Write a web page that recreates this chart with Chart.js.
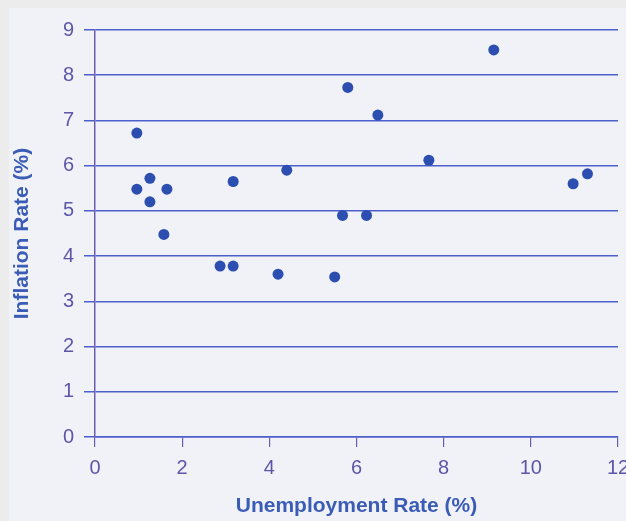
<!DOCTYPE html>
<html>
<head>
<meta charset="utf-8">
<script src="https://cdn.jsdelivr.net/npm/chart.js@4.4.0/dist/chart.umd.min.js"></script>
<style>
  html, body { margin: 0; padding: 0; overflow: hidden; background: #ececec; width: 626px; height: 521px; }
  #panel { position: absolute; left: 9px; top: 8px; width: 617px; height: 513px; background: #f0f2f7; overflow: hidden; }
  canvas { display: block; }
</style>
</head>
<body>
<div id="panel"><canvas id="chart" width="630" height="513"></canvas></div>
<script>
// Unemployment (%) vs inflation (%) readings
const unemployment = [0.96, 0.96, 1.26, 1.26, 1.65, 1.58, 2.87, 3.17, 3.17, 4.4, 4.2, 5.5, 5.8, 5.68, 6.23, 6.49, 7.66, 9.15, 10.97, 11.3];
const inflation = [6.72, 5.48, 5.72, 5.2, 5.48, 4.48, 3.78, 3.78, 5.65, 5.9, 3.6, 3.54, 7.73, 4.9, 4.9, 7.12, 6.12, 8.56, 5.6, 5.82];

const xTicks = [0, 2, 4, 6, 8, 10, 12];
const yTicks = [0, 1, 2, 3, 4, 5, 6, 7, 8, 9];

const labelColor = '#5d56a8';
const titleColor = '#3b5cb6';
const gridColor = '#4c5fcb';
const axisColor = '#6b5eb2';

const points = unemployment.map((u, i) => ({ x: u, y: inflation[i] }));

new Chart(document.getElementById('chart'), {
    type: 'scatter',
    data: {
        datasets: [{
            data: points,
            backgroundColor: '#2b4eb0',
            borderWidth: 0,
            pointRadius: 5.5,
            pointHoverRadius: 5.5
        }]
    },
    options: {
        responsive: false,
        animation: false,
        layout: { padding: { left: 0, top: 21, right: 21, bottom: 0 } },
        plugins: { legend: { display: false }, tooltip: { enabled: false } },
        scales: {
            x: {
                type: 'linear',
                min: 0,
                max: 12,
                afterBuildTicks: (scale) => { scale.ticks = xTicks.map(v => ({ value: v })); },
                afterFit: (scale) => { scale.height = 84; },
                grid: { drawOnChartArea: false, drawTicks: true, tickLength: 10, color: axisColor, lineWidth: 1.2 },
                border: { display: true, color: gridColor, width: 1.5 },
                ticks: {
                    color: labelColor,
                    padding: 9,
                    maxRotation: 0,
                    font: { family: "'Liberation Sans', Arial, sans-serif", size: 20 }
                },
                title: {
                    display: true,
                    text: 'Unemployment Rate (%)',
                    color: titleColor,
                    padding: { top: 0, bottom: 2 },
                    font: { family: "'Liberation Sans', Arial, sans-serif", size: 21, weight: 'bold' }
                }
            },
            y: {
                type: 'linear',
                min: 0,
                max: 9,
                afterBuildTicks: (scale) => { scale.ticks = yTicks.map(v => ({ value: v })); },
                afterFit: (scale) => { scale.width = 86; },
                grid: { drawOnChartArea: true, drawTicks: true, tickLength: 11, color: gridColor, lineWidth: 1.5 },
                border: { display: true, color: axisColor, width: 1.5 },
                ticks: {
                    color: labelColor,
                    padding: 10,
                    font: { family: "'Liberation Sans', Arial, sans-serif", size: 20 }
                },
                title: {
                    display: true,
                    text: 'Inflation Rate (%)',
                    color: titleColor,
                    padding: { top: 1, bottom: 0 },
                    font: { family: "'Liberation Sans', Arial, sans-serif", size: 21, weight: 'bold' }
                }
            }
        }
    }
});
</script>
</body>
</html>
